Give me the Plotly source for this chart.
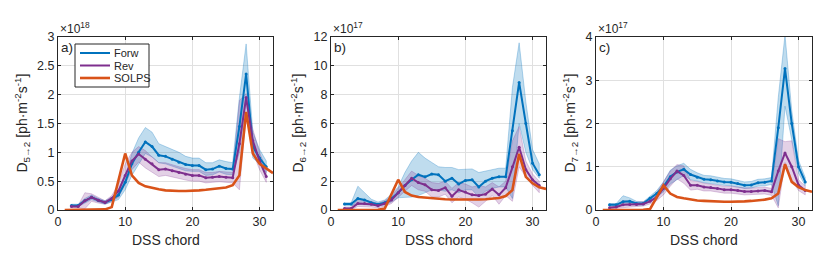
import plotly.graph_objects as go

W, H = 831, 272

# ---------------- data ----------------
chords = list(range(2, 32))          # Forw / Rev chords 2..31
chords_solps = list(range(1, 33))    # SOLPS chords 1..32

# Panel a: D 5->2, units of 1e18
a_forw = [0.08, 0.08, 0.16, 0.22, 0.17, 0.13, 0.18, 0.26, 0.48, 0.80, 1.00, 1.18, 1.10, 0.95, 0.93,
          0.88, 0.83, 0.79, 0.77, 0.77, 0.70, 0.71, 0.76, 0.72, 0.71, 1.45, 2.36, 1.10, 0.90, 0.75]
a_forw_hi = [0.10, 0.10, 0.20, 0.26, 0.20, 0.16, 0.22, 0.32, 0.58, 0.98, 1.25, 1.43, 1.35, 1.15, 1.10,
             1.05, 1.00, 0.93, 0.90, 0.90, 0.82, 0.82, 0.87, 0.84, 0.82, 1.95, 2.88, 1.35, 1.05, 0.85]
a_forw_lo = [0.06, 0.06, 0.12, 0.18, 0.14, 0.10, 0.14, 0.18, 0.35, 0.60, 0.80, 0.98, 0.92, 0.82, 0.80,
             0.76, 0.72, 0.68, 0.67, 0.67, 0.60, 0.61, 0.66, 0.62, 0.61, 1.00, 1.90, 0.90, 0.80, 0.65]
a_rev = [0.06, 0.06, 0.16, 0.22, 0.17, 0.13, 0.20, 0.33, 0.60, 0.85, 0.97, 0.88, 0.80, 0.70, 0.71,
         0.68, 0.65, 0.62, 0.60, 0.60, 0.56, 0.57, 0.58, 0.57, 0.56, 1.15, 1.95, 1.20, 0.85, 0.58]
a_rev_hi = [0.08, 0.08, 0.30, 0.28, 0.22, 0.16, 0.25, 0.45, 0.80, 1.00, 1.10, 1.03, 0.92, 0.82, 0.82,
            0.78, 0.75, 0.72, 0.70, 0.70, 0.65, 0.65, 0.67, 0.66, 0.65, 1.90, 2.02, 1.40, 1.00, 0.70]
a_rev_lo = [0.04, 0.04, 0.02, 0.15, 0.12, 0.10, 0.15, 0.22, 0.45, 0.70, 0.83, 0.73, 0.66, 0.58, 0.60,
            0.57, 0.55, 0.52, 0.50, 0.50, 0.47, 0.48, 0.49, 0.48, 0.47, 0.35, 1.65, 1.00, 0.70, 0.48]
a_solps = [0, 0, 0, 0, 0, 0, 0.01, 0.05, 0.52, 0.98, 0.60, 0.47, 0.41, 0.38, 0.36, 0.34,
           0.33, 0.33, 0.33, 0.33, 0.34, 0.35, 0.36, 0.37, 0.39, 0.43, 0.60, 1.70, 0.98, 0.80, 0.72, 0.64]

# Panel b: D 6->2, units of 1e17
b_forw = [0.42, 0.42, 0.80, 0.70, 0.50, 0.40, 0.50, 0.80, 1.20, 1.70, 2.10, 2.45, 2.30, 2.50, 2.45,
          2.00, 2.20, 1.80, 2.05, 2.10, 1.60, 2.00, 2.20, 2.30, 2.30, 5.50, 8.85, 6.00, 3.25, 2.45]
b_forw_hi = [0.50, 0.50, 1.65, 1.20, 0.75, 0.55, 0.70, 1.10, 1.60, 2.60, 3.40, 4.00, 3.60, 3.30, 3.00,
             2.95, 2.95, 2.80, 2.80, 2.85, 2.60, 2.70, 2.80, 2.90, 2.90, 8.50, 11.60, 7.50, 4.20, 3.20]
b_forw_lo = [0.30, 0.30, 0.40, 0.40, 0.35, 0.30, 0.35, 0.55, 0.85, 0.90, 0.90, 1.00, 1.20, 1.40, 1.40,
             1.30, 1.40, 1.20, 1.40, 1.40, 0.90, 1.30, 1.50, 1.60, 1.60, 0.80, 6.00, 4.00, 2.80, 2.20]
b_rev = [0.10, 0.10, 0.45, 0.45, 0.40, 0.30, 0.45, 0.70, 1.20, 1.70, 2.20, 1.90, 1.75, 1.40, 1.35,
         1.55, 0.95, 1.40, 1.25, 1.05, 1.00, 1.10, 1.45, 1.05, 1.55, 3.00, 4.35, 2.80, 2.10, 1.70]
b_rev_hi = [0.20, 0.20, 0.75, 0.70, 0.60, 0.45, 0.65, 0.95, 1.50, 2.10, 2.70, 2.40, 2.20, 1.90, 1.85,
            2.00, 1.50, 1.90, 1.80, 1.60, 1.70, 1.60, 1.90, 1.60, 2.00, 4.80, 5.80, 3.40, 2.50, 2.00]
b_rev_lo = [0.02, 0.02, 0.25, 0.25, 0.20, 0.15, 0.25, 0.45, 0.90, 1.30, 1.70, 1.40, 1.30, 0.90, 0.90,
            1.10, 0.50, 0.90, 0.75, 0.50, 0.20, 0.60, 1.00, 0.40, 1.00, 0.60, 3.00, 2.30, 1.70, 1.20]
b_solps = [0, 0, 0, 0, 0, 0, 0.02, 0.10, 1.10, 2.10, 1.25, 1.00, 0.90, 0.85, 0.80, 0.78,
           0.75, 0.73, 0.72, 0.72, 0.72, 0.73, 0.75, 0.78, 0.83, 0.97, 1.38, 3.90, 2.30, 1.85, 1.57, 1.46]

# Panel c: D 7->2, units of 1e17
c_forw = [0.12, 0.12, 0.19, 0.20, 0.15, 0.15, 0.27, 0.38, 0.54, 0.77, 0.88, 0.94, 0.82, 0.76, 0.71,
          0.70, 0.67, 0.65, 0.64, 0.61, 0.57, 0.58, 0.63, 0.64, 0.67, 1.90, 3.27, 2.00, 1.00, 0.65]
c_forw_hi = [0.15, 0.15, 0.33, 0.28, 0.20, 0.19, 0.32, 0.45, 0.65, 0.92, 1.02, 1.08, 0.94, 0.86, 0.80,
             0.79, 0.76, 0.73, 0.72, 0.69, 0.65, 0.66, 0.71, 0.72, 0.75, 2.60, 4.05, 2.30, 1.15, 0.75]
c_forw_lo = [0.09, 0.09, 0.12, 0.14, 0.11, 0.11, 0.22, 0.30, 0.42, 0.60, 0.70, 0.80, 0.70, 0.67, 0.63,
             0.62, 0.59, 0.57, 0.56, 0.53, 0.50, 0.51, 0.55, 0.56, 0.59, 0.10, 2.40, 1.60, 0.85, 0.56]
c_rev = [0.05, 0.07, 0.12, 0.13, 0.13, 0.14, 0.20, 0.30, 0.50, 0.72, 0.90, 0.80, 0.57, 0.57, 0.53,
         0.52, 0.50, 0.47, 0.47, 0.45, 0.43, 0.43, 0.44, 0.45, 0.42, 0.90, 1.32, 1.00, 0.58, 0.45]
c_rev_hi = [0.08, 0.10, 0.22, 0.20, 0.18, 0.19, 0.26, 0.40, 0.65, 0.90, 1.05, 1.02, 0.68, 0.66, 0.62,
            0.60, 0.58, 0.55, 0.55, 0.53, 0.51, 0.51, 0.52, 0.53, 0.50, 1.65, 1.58, 1.60, 0.70, 0.55]
c_rev_lo = [0.02, 0.04, 0.05, 0.07, 0.08, 0.09, 0.14, 0.22, 0.35, 0.55, 0.72, 0.62, 0.46, 0.48, 0.44,
            0.44, 0.42, 0.39, 0.39, 0.37, 0.35, 0.35, 0.36, 0.37, 0.34, 0.05, 1.10, 0.70, 0.45, 0.35]
c_solps = [0, 0, 0, 0, 0, 0, 0.005, 0.02, 0.30, 0.57, 0.38, 0.30, 0.27, 0.24, 0.22, 0.21,
           0.20, 0.20, 0.19, 0.19, 0.19, 0.20, 0.21, 0.22, 0.24, 0.27, 0.38, 1.06, 0.65, 0.53, 0.46, 0.42]

series_names = ["Forw", "Rev", "SOLPS"]
panel_labels = ["a)", "b)", "c)"]
exponents = ["18", "17", "17"]
ytitles = ["D<sub>5→2</sub> [ph·m<sup>-2</sup>s<sup>-1</sup>]",
           "D<sub>6→2</sub> [ph·m<sup>-2</sup>s<sup>-1</sup>]",
           "D<sub>7→2</sub> [ph·m<sup>-2</sup>s<sup>-1</sup>]"]
yranges = [[0, 3], [0, 12], [0, 4]]
ytickvals = [[0, 0.5, 1, 1.5, 2, 2.5, 3], [0, 2, 4, 6, 8, 10, 12], [0, 1, 2, 3, 4]]
yticktext = [["0", "0.5", "1", "1.5", "2", "2.5", "3"], ["0", "2", "4", "6", "8", "10", "12"],
             ["0", "1", "2", "3", "4"]]
xticks = [0, 10, 20, 30]

panels = [
    (a_forw, a_forw_lo, a_forw_hi, a_rev, a_rev_lo, a_rev_hi, a_solps),
    (b_forw, b_forw_lo, b_forw_hi, b_rev, b_rev_lo, b_rev_hi, b_solps),
    (c_forw, c_forw_lo, c_forw_hi, c_rev, c_rev_lo, c_rev_hi, c_solps),
]

# ---------------- style ----------------
BLUE = "#0072BD"
PURPLE = "#7E2F8E"
ORANGE = "#D95319"
BLUE_FILL = "rgba(0,114,189,0.25)"
BLUE_EDGE = "rgba(0,114,189,0.35)"
PURPLE_FILL = "rgba(126,47,142,0.22)"
PURPLE_EDGE = "rgba(126,47,142,0.30)"
TXT = "#262626"
FONT = "Liberation Sans, Arial, sans-serif"

xdom = [[58 / W, 273 / W], [331 / W, 546 / W], [596 / W, 812 / W]]
ydom = [1 - 210 / H, 1 - 37 / H]
ytitle_x = [22, 298, 570]

fig = go.Figure()
annotations = []
shapes = []
layout = {}

for i, (fw, fl, fh, rv, rl, rh, so) in enumerate(panels):
    n = "" if i == 0 else str(i + 1)
    xa, ya = "x" + n, "y" + n
    fig.add_trace(go.Scatter(x=chords + chords[::-1], y=fh + fl[::-1], fill="toself",
                             fillcolor=BLUE_FILL, line=dict(color=BLUE_EDGE, width=0.8),
                             mode="lines", showlegend=False, hoverinfo="skip", xaxis=xa, yaxis=ya))
    fig.add_trace(go.Scatter(x=chords + chords[::-1], y=rh + rl[::-1], fill="toself",
                             fillcolor=PURPLE_FILL, line=dict(color=PURPLE_EDGE, width=0.8),
                             mode="lines", showlegend=False, hoverinfo="skip", xaxis=xa, yaxis=ya))
    fig.add_trace(go.Scatter(x=chords, y=fw, mode="lines+markers", name=series_names[0],
                             line=dict(color=BLUE, width=2), marker=dict(size=3, color=BLUE),
                             showlegend=False, xaxis=xa, yaxis=ya))
    fig.add_trace(go.Scatter(x=chords, y=rv, mode="lines+markers", name=series_names[1],
                             line=dict(color=PURPLE, width=2), marker=dict(size=3, color=PURPLE),
                             showlegend=False, xaxis=xa, yaxis=ya))
    fig.add_trace(go.Scatter(x=chords_solps, y=so, mode="lines", name=series_names[2],
                             line=dict(color=ORANGE, width=2.6),
                             showlegend=False, xaxis=xa, yaxis=ya))

    common = dict(showline=True, linecolor=TXT, linewidth=1, mirror="ticks",
                  ticks="inside", ticklen=3, tickcolor=TXT, showgrid=True,
                  gridcolor="#e0e0e0", gridwidth=1, zeroline=False, automargin=False,
                  tickfont=dict(family=FONT, size=12.5, color=TXT))
    layout["xaxis" + n] = dict(domain=xdom[i], range=[0, 32], tickvals=xticks,
                               anchor=ya, **common)
    layout["yaxis" + n] = dict(domain=ydom, range=yranges[i], tickvals=ytickvals[i],
                               ticktext=yticktext[i], anchor=xa, **common)

    x0, x1 = xdom[i]
    annotations.append(dict(text="DSS chord", x=(x0 + x1) / 2, y=1 - 240 / H, xref="paper",
                            yref="paper", showarrow=False, xanchor="center", yanchor="middle",
                            font=dict(family=FONT, size=14, color=TXT)))
    annotations.append(dict(text=ytitles[i], x=ytitle_x[i] / W, y=(ydom[0] + ydom[1]) / 2,
                            xref="paper", yref="paper", showarrow=False, textangle=-90,
                            xanchor="center", yanchor="middle",
                            font=dict(family=FONT, size=14, color=TXT)))
    annotations.append(dict(text="×10<sup>" + exponents[i] + "</sup>", x=x0, y=1 - 28 / H,
                            xref="paper", yref="paper", showarrow=False, xanchor="left",
                            yanchor="middle", font=dict(family=FONT, size=12, color=TXT)))
    annotations.append(dict(text=panel_labels[i], x=x0 + 1 / W, y=1 - 47 / H, xref="paper",
                            yref="paper", showarrow=False, xanchor="left", yanchor="middle",
                            font=dict(family=FONT, size=13.5, color=TXT)))

# legend (panel a), drawn as a MATLAB-style box
leg_colors = [BLUE, PURPLE, ORANGE]
leg_widths = [2, 2, 2.6]
leg_rows = [53, 65.5, 78]
shapes.append(dict(type="rect", xref="paper", yref="paper", x0=75 / W, x1=149 / W,
                   y0=1 - 87 / H, y1=1 - 44 / H, line=dict(color=TXT, width=1),
                   fillcolor="white", layer="above"))
for name, col, lw, yy in zip(series_names, leg_colors, leg_widths, leg_rows):
    shapes.append(dict(type="line", xref="paper", yref="paper", x0=80 / W, x1=110 / W,
                       y0=1 - yy / H, y1=1 - yy / H, line=dict(color=col, width=lw),
                       layer="above"))
    annotations.append(dict(text=name, x=112 / W, y=1 - yy / H, xref="paper", yref="paper",
                            showarrow=False, xanchor="left", yanchor="middle",
                            font=dict(family=FONT, size=11, color=TXT)))

fig.update_layout(
    template="none",
    width=W, height=H, margin=dict(l=0, r=0, t=0, b=0, pad=0),
    paper_bgcolor="white", plot_bgcolor="white",
    showlegend=False,
    annotations=annotations, shapes=shapes,
    **layout,
)

fig.write_html("out.html", config={"displayModeBar": False},
               post_script="document.body.style.margin='0';document.body.style.overflow='hidden';")
